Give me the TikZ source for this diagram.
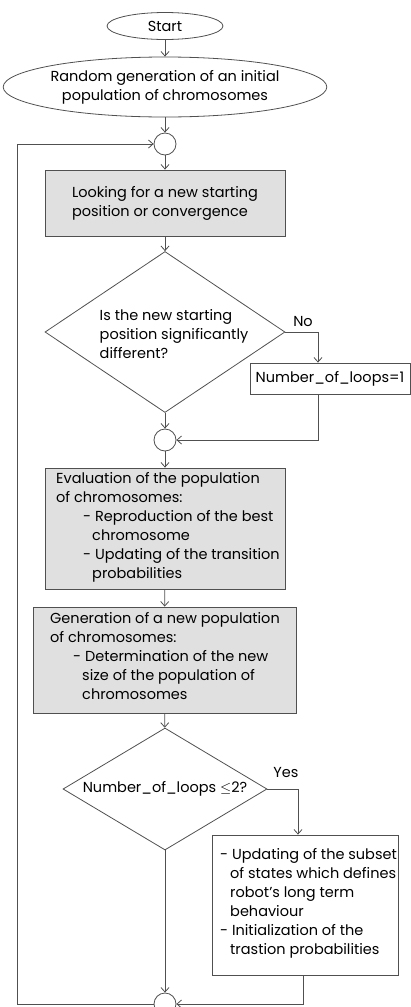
\documentclass[tikz,border=0pt]{standalone}
\usepackage{fontspec}
\setmainfont{Poppins}
\usetikzlibrary{shapes.geometric,arrows.meta}
\definecolor{boxgray}{HTML}{E0E0E0}
\definecolor{linegray}{HTML}{505050}
\tikzset{
  base/.style={draw=linegray, line width=0.8pt, inner sep=0pt, font=\fontsize{14.5}{19}\selectfont},
  oval/.style={base, ellipse},
  graybox/.style={base, rectangle, fill=boxgray},
  whitebox/.style={base, rectangle, fill=white},
  decision/.style={base, diamond},
  junction/.style={base, circle, minimum size=22pt},
  txt/.style={inner sep=0pt, align=left, font=\fontsize{14.5}{19}\selectfont},
  arr/.style={draw=linegray, line width=0.8pt, -{Straight Barb[length=4.5pt,width=8pt]}},
}
\begin{document}
\begin{tikzpicture}[x=1pt,y=-1pt]
\useasboundingbox (0,0) rectangle (411,1007);
\node[oval, minimum width=116pt, minimum height=27pt] (start) at (165,26) {Start};
\node[oval, minimum width=297pt, minimum height=60pt, align=center] (init) at (165,87) {Random generation of an initial\\population of chromosomes};
\node[junction] (c1) at (165,144) {};
\node[graybox, minimum width=240pt, minimum height=66pt, align=left] (b1) at (165,203) {Looking for a new starting\\position or convergence};
\node[decision, minimum width=240pt, minimum height=161pt] (d1) at (165,332) {};
\node[txt] (d1t) at (174,334) {Is the new starting\\position significantly\\different?};
\node[txt] (no) at (303,321) {No};
\node[whitebox, minimum width=160pt, minimum height=31pt] (nol) at (330,378.5) {Number\_of\_loops=1};
\node[junction] (c2) at (165,440) {};
\node[graybox, minimum width=240pt, minimum height=121pt] (b2) at (165,528.5) {};
\node[txt, anchor=north west] (b2t) at (56,472) {Evaluation of the population\\of chromosomes:\\\hspace*{27pt}- Reproduction of the best\\\hspace*{36pt}chromosome\\\hspace*{27pt}- Updating of the transition\\\hspace*{36pt}probabilities};
\node[graybox, minimum width=263pt, minimum height=106pt] (b3) at (164.5,660) {};
\node[txt, anchor=north west] (b3t) at (50,612) {Generation of a new population\\of chromosomes:\\\hspace*{23pt}- Determination of the new\\\hspace*{32pt}size of the population of\\\hspace*{32pt}chromosomes};
\node[decision, minimum width=204pt, minimum height=122pt] (d2) at (165,789) {};
\node[txt] (d2t) at (165,789) {Number\_of\_loops $\leq$2?};
\node[txt] (yes) at (286,773) {Yes};
\node[whitebox, minimum width=186pt, minimum height=140pt] (b4) at (305,905) {};
\node[txt, anchor=north west] (b4t) at (220,848) {- Updating of the subset\\\hspace*{10pt}of states which defines\\\hspace*{10pt}robot's long term\\\hspace*{10pt}behaviour\\- Initialization of the\\\hspace*{10pt}trastion probabilities};
\node[junction] (c3) at (165,1004) {};
\coordinate (lp) at (17,0);

\draw[arr] (start) -- (init);
\draw[arr] (init) -- (c1);
\draw[arr] (c1) -- (b1);
\draw[arr] (b1) -- (d1);
\draw[arr] (d1.east) -| ([xshift=-12pt]nol.north);
\draw[arr] ([xshift=-12pt]nol.south) |- (c2.east);
\draw[arr] (d1.south) -- (c2.north);
\draw[arr] (c2) -- (b2);
\draw[arr] (b2) -- (b3);
\draw[arr] (b3) -- (d2);
\draw[arr] (d2.east) -| ([xshift=-7pt]b4.north);
\draw[arr] (d2.south) -- (c3.north);
\draw[arr] ([xshift=-2pt]b4.south) |- (c3.east);
\draw[arr] (c3.west) -- (c3.west -| lp) -- (c1.west -| lp) -- (c1.west);
\end{tikzpicture}
\end{document}
